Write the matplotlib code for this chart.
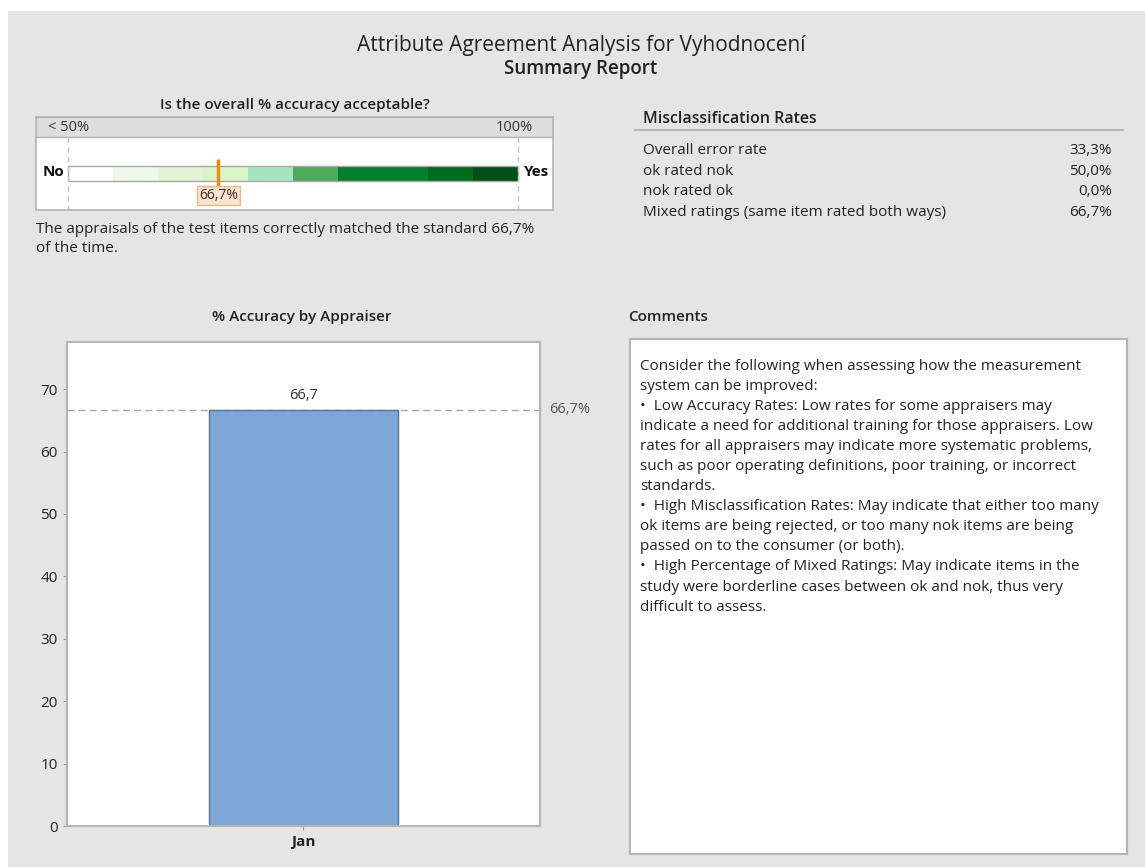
import matplotlib
matplotlib.use("Agg")
import matplotlib.pyplot as plt
from matplotlib.patches import Rectangle

plt.rcParams['font.family'] = ['Open Sans', 'DejaVu Sans']

# data
appraisers = ['Jan']
accuracy = [66.7]
overall_accuracy = 66.7

misclass_labels = ['Overall error rate', 'ok rated nok', 'nok rated ok',
                   'Mixed ratings (same item rated both ways)']
misclass_values = [33.3, 50.0, 0.0, 66.7]

gauge_edges = [50, 55, 60, 65, 70, 75, 80, 90, 95, 100]
gauge_colors = ['#ffffff', '#f0f8ee', '#e2f3d8', '#d9f5c6', '#a6e3c0',
                '#4eab5b', '#00802b', '#006b1c', '#004e18']

comment_lines = [
    "Consider the following when assessing how the measurement",
    "system can be improved:",
    "\u2022  Low Accuracy Rates: Low rates for some appraisers may",
    "indicate a need for additional training for those appraisers. Low",
    "rates for all appraisers may indicate more systematic problems,",
    "such as poor operating definitions, poor training, or incorrect",
    "standards.",
    "\u2022  High Misclassification Rates: May indicate that either too many",
    "ok items are being rejected, or too many nok items are being",
    "passed on to the consumer (or both).",
    "\u2022  High Percentage of Mixed Ratings: May indicate items in the",
    "study were borderline cases between ok and nok, thus very",
    "difficult to assess.",
]

def pct(v, dec=1):
    return f"{v:.{dec}f}".replace('.', ',')

W, H = 1145, 867
fig = plt.figure(figsize=(W / 100, H / 100), dpi=100)
fig.patch.set_facecolor('white')
fig.patches.append(Rectangle((8 / W, 0), 1, 1 - 11 / H, transform=fig.transFigure,
                             facecolor='#e5e5e5', edgecolor='none', zorder=-10))

def px_axes(x0, y0, x1, y1):
    return fig.add_axes([x0 / W, 1 - y1 / H, (x1 - x0) / W, (y1 - y0) / H])

def ftext(x, y, s, **kw):
    return fig.text(x / W, 1 - y / H, s, **kw)

txt = '#222222'
edge_gray = '#b4b4b4'

# titles
ftext(581, 46, "Attribute Agreement Analysis for Vyhodnocení", ha='center', va='center',
      fontsize=15, color=txt)
ftext(581, 69, "Summary Report", ha='center', va='center', fontsize=13.5,
      fontweight='semibold', color=txt)

# gauge
ftext(295, 105, "Is the overall % accuracy acceptable?", ha='center', va='center',
      fontsize=11, fontweight='semibold', color=txt)
ax_g = px_axes(36, 117, 553, 210)
px_per = 9.0
ax_g.set_xlim(50 - 32 / px_per, 100 + 35 / px_per)
ax_g.set_ylim(210, 117)
ax_g.set_facecolor('white')
ax_g.set_xticks([])
ax_g.set_yticks([])
for s in ax_g.spines.values():
    s.set_color(edge_gray)
    s.set_linewidth(1.2)
ax_g.add_patch(Rectangle((40, 117), 70, 20, facecolor='#dddddd', edgecolor=edge_gray, lw=1))
ax_g.text(50 - 20 / px_per, 127.5, "< 50%", ha='left', va='center', fontsize=10.5, color='#333333')
ax_g.text(100 + 15 / px_per, 127.5, "100%", ha='right', va='center', fontsize=10.5, color='#333333')
for v in (gauge_edges[0], gauge_edges[-1]):
    ax_g.plot([v, v], [137, 210], color='#c8c8c8', lw=1, ls=(0, (4, 3)))
segs = [(gauge_edges[i], gauge_edges[i + 1] - gauge_edges[i]) for i in range(len(gauge_colors))]
ax_g.broken_barh(segs, (165.7, 15.6), facecolors=gauge_colors, edgecolor='none')
ax_g.add_patch(Rectangle((gauge_edges[0], 165.7), gauge_edges[-1] - gauge_edges[0], 15.6,
                         fill=False, edgecolor='#a8a8a8', lw=1))
ax_g.plot([overall_accuracy, overall_accuracy], [159, 188], color='#f08c10', lw=2.5,
          solid_capstyle='butt')
ax_g.text(overall_accuracy, 195.5, pct(overall_accuracy) + "%", ha='center', va='center',
          fontsize=10, color='#333333',
          bbox=dict(boxstyle='square,pad=0.15', facecolor='#fde2cc', edgecolor='#f2b58a', lw=1))
ax_g.text(gauge_edges[0] - 4 / px_per, 172, "No", ha='right', va='center', fontsize=11,
          fontweight='bold', color='#111111')
ax_g.text(gauge_edges[-1] + 6 / px_per, 172, "Yes", ha='left', va='center', fontsize=11,
          fontweight='bold', color='#111111')

ftext(36, 230, f"The appraisals of the test items correctly matched the standard {pct(overall_accuracy)}%",
      ha='left', va='center', fontsize=11, color=txt)
ftext(36, 249, "of the time.", ha='left', va='center', fontsize=11, color=txt)

# misclassification rates
ftext(643, 119, "Misclassification Rates", ha='left', va='center', fontsize=11.5,
      fontweight='semibold', color=txt)
fig.add_artist(plt.Line2D([635 / W, 1123 / W], [1 - 129.5 / H] * 2, color='#b8b8b8', lw=1.5))
for i, (lab, val) in enumerate(zip(misclass_labels, misclass_values)):
    y = 151 + i * 20.4
    ftext(643, y, lab, ha='left', va='center', fontsize=11, color=txt)
    ftext(1112, y, pct(val) + "%", ha='right', va='center', fontsize=11, color=txt)

# accuracy by appraiser
ftext(302, 317, "% Accuracy by Appraiser", ha='center', va='center', fontsize=11,
      fontweight='semibold', color=txt)
ax_b = px_axes(66.7, 341.7, 540, 826)
ax_b.set_facecolor('white')
ax_b.bar(range(len(appraisers)), accuracy, width=1.0, color='#7ea6d8', edgecolor='#56739b',
         lw=1, zorder=2)
ax_b.set_xlim(-1.25, 1.25)
ax_b.set_ylim(0, 77.6)
ax_b.set_yticks(range(0, 80, 10))
ax_b.set_xticks(range(len(appraisers)))
ax_b.set_xticklabels(appraisers, fontweight='bold', fontsize=11)
ax_b.tick_params(axis='both', colors='#999999', labelcolor='#222222', labelsize=11, length=3)
for s in ax_b.spines.values():
    s.set_color(edge_gray)
    s.set_linewidth(1.5)
ax_b.axhline(overall_accuracy, color='#a8a8a8', lw=1, ls=(0, (5, 3)), zorder=1)
for i, v in enumerate(accuracy):
    ax_b.annotate(pct(v), (i, v), xytext=(0, 5), textcoords='offset points', ha='center',
                  va='bottom', fontsize=10.5, color='#333333')
ax_b.text(1.02, overall_accuracy, pct(overall_accuracy) + "%",
          transform=ax_b.get_yaxis_transform(), ha='left', va='center', fontsize=10.5,
          color='#555555')

# comments
ftext(628, 317, "Comments", ha='left', va='center', fontsize=11, fontweight='semibold', color=txt)
ax_c = px_axes(630, 339.3, 1127, 854)
ax_c.set_facecolor('white')
ax_c.set_xticks([])
ax_c.set_yticks([])
for s in ax_c.spines.values():
    s.set_color(edge_gray)
    s.set_linewidth(1.5)
for i, line in enumerate(comment_lines):
    ftext(640, 366 + i * 20.1, line, ha='left', va='center', fontsize=11, color=txt)

fig.savefig('out.png', dpi=100)
